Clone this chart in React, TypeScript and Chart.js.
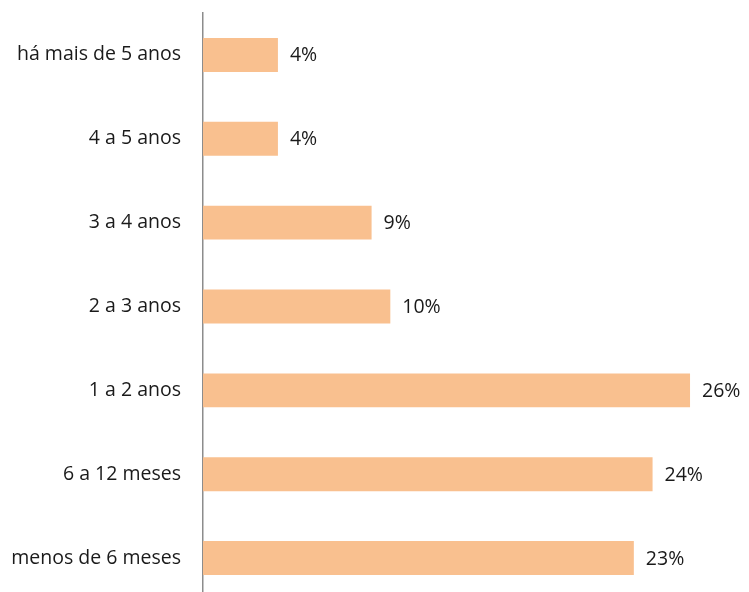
import React, { useEffect, useRef } from "react";
import { Chart, registerables } from "chart.js";

Chart.register(...registerables);

const categories = [
  "há mais de 5 anos",
  "4 a 5 anos",
  "3 a 4 anos",
  "2 a 3 anos",
  "1 a 2 anos",
  "6 a 12 meses",
  "menos de 6 meses",
];
const values = [4, 4, 9, 10, 26, 24, 23];
const valueLabels = ["4%", "4%", "9%", "10%", "26%", "24%", "23%"];

const FONT = "'Open Sans', sans-serif";

const valueLabelPlugin = {
  id: "valueLabels",
  afterDatasetsDraw(chart: any) {
    const ctx = chart.ctx;
    const meta = chart.getDatasetMeta(0);
    ctx.save();
    ctx.font = `19.5px ${FONT}`;
    ctx.fillStyle = "#1a1a1a";
    ctx.textAlign = "left";
    ctx.textBaseline = "middle";
    meta.data.forEach((bar: any, i: number) => {
      ctx.fillText(valueLabels[i], bar.x + 12, bar.y + 1);
    });
    ctx.restore();
  },
};

export default function App() {
  const ref = useRef<HTMLCanvasElement>(null);
  useEffect(() => {
    const chart = new Chart(ref.current!, {
      type: "bar",
      data: {
        labels: categories,
        datasets: [
          {
            data: values,
            backgroundColor: "#F9C08F",
            borderWidth: 0,
            barPercentage: 0.81,
            categoryPercentage: 0.5,
          },
        ],
      },
      options: {
        indexAxis: "y",
        animation: false,
        responsive: false,
        maintainAspectRatio: false,
        layout: { padding: { top: 13, bottom: 0, left: 0, right: 21.5 } },
        plugins: { legend: { display: false }, tooltip: { enabled: false } },
        scales: {
          x: { display: false, min: 0, max: 28 },
          y: {
            afterFit: (scale: any) => {
              scale.width = 203;
              scale.paddingTop = 0;
              scale.paddingBottom = 0;
            },
            grid: { display: false, drawTicks: false },
            border: { display: true, color: "#8c8c8c", width: 1.5 },
            ticks: {
              padding: 22,
              color: "#1a1a1a",
              font: { family: FONT, size: 19.5 },
            },
          },
        },
      },
      plugins: [valueLabelPlugin],
    });
    return () => chart.destroy();
  }, []);
  return (
    <div
      style={{
        position: "absolute",
        left: 0,
        top: 0,
        width: 749,
        height: 592,
        overflow: "hidden",
        background: "#fff",
      }}
    >
      <canvas ref={ref} width={749} height={600} style={{ width: 749, height: 600 }} />
    </div>
  );
}
